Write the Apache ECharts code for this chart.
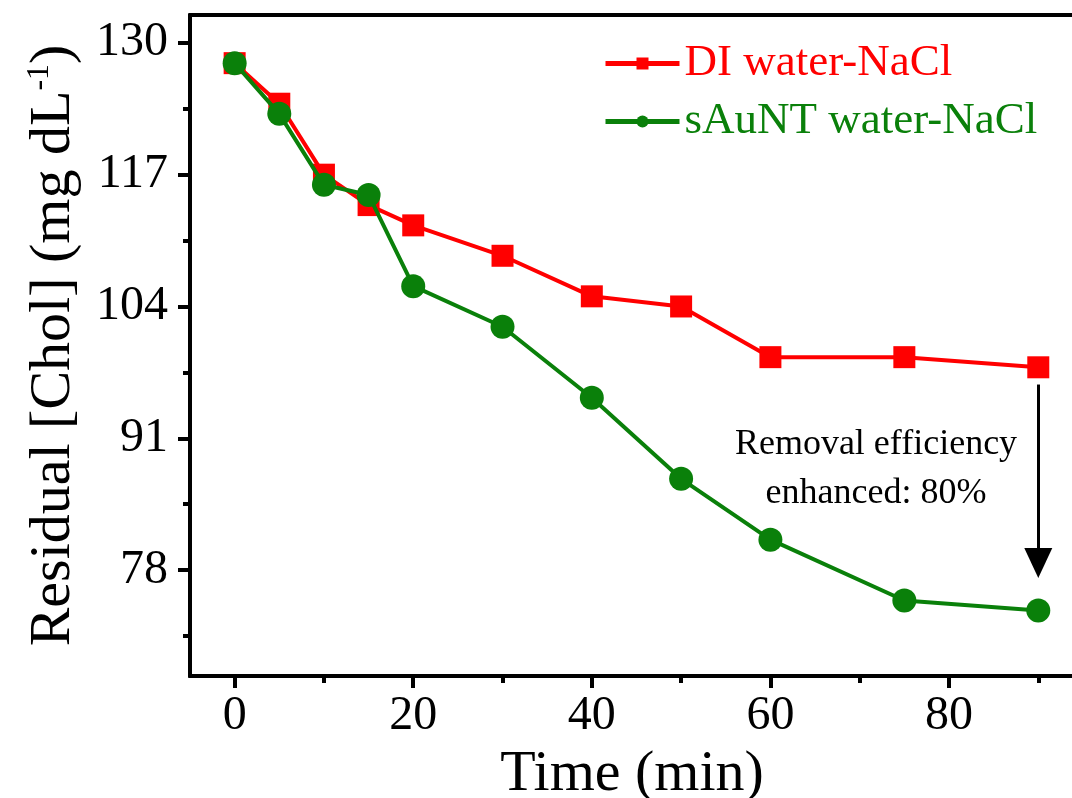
<!DOCTYPE html>
<html>
<head>
<meta charset="utf-8">
<script src="https://cdn.jsdelivr.net/npm/echarts@6/dist/echarts.min.js"></script>
<style>
  html, body { margin: 0; padding: 0; background: #fff; }
  #main { width: 1072px; height: 798px; }
</style>
</head>
<body>
<div id="main"></div>
<script>
// data
var times = [0, 5, 10, 15, 20, 30, 40, 50, 60, 75, 90];
var diWater = [128, 124, 117, 114, 112, 109, 105, 104, 99, 99, 98];
var sAuNT = [128, 123, 116, 115, 106, 102, 95, 87, 81, 75, 74];
var xMajor = [0, 20, 40, 60, 80];
var xMinor = [10, 30, 50, 70, 90];
var yMajor = [78, 91, 104, 117, 130];
var yMinor = [71.5, 84.5, 97.5, 110.5, 123.5];
var arrowFrom = [90, 96.3];
var arrowTo = [90, 78.7];

var FONT = "'Liberation Serif', 'Times New Roman', serif";

function pairs(xs, ys) {
    return xs.map(function (x, i) { return [x, ys[i]]; });
}

function xAxisBase(pos, ticks, len, labels) {
    return {
        type: 'value', position: pos, min: -5, max: 94,
        axisLine: { show: true, onZero: false, lineStyle: { color: '#000', width: 4 } },
        axisTick: { show: ticks.length > 0, inside: false, length: len, customValues: ticks,
            lineStyle: { color: '#000', width: 4 } },
        axisLabel: labels ? { show: true, customValues: labels, color: '#000', fontFamily: FONT,
            fontSize: 48, margin: 16 } : { show: false },
        splitLine: { show: false }
    };
}

function yAxisBase(ticks, len, labels) {
    return {
        type: 'value', position: 'left', min: 67.55, max: 132.75,
        axisLine: { show: true, onZero: false, lineStyle: { color: '#000', width: 4 } },
        axisTick: { show: true, inside: false, length: len, customValues: ticks,
            lineStyle: { color: '#000', width: 4 } },
        axisLabel: labels ? { show: true, customValues: labels, color: '#000', fontFamily: FONT,
            fontSize: 48, margin: 22 } : { show: false },
        splitLine: { show: false }
    };
}

var chart = echarts.init(document.getElementById('main'));

var xMain = xAxisBase('bottom', xMajor, 12, xMajor);
xMain.name = 'Time (min)';
xMain.nameLocation = 'middle';
xMain.nameGap = 70;
xMain.nameTextStyle = { color: '#000', fontFamily: FONT, fontSize: 58 };

var yMain = yAxisBase(yMajor, 12, yMajor);
yMain.name = '{t|Residual [Chol] (mg dL}{s|-1}{t|)}';
yMain.nameLocation = 'middle';
yMain.nameGap = 106;
yMain.nameRotate = 90;
yMain.nameTextStyle = {
    rich: {
        t: { color: '#000', fontFamily: FONT, fontSize: 58 },
        s: { color: '#000', fontFamily: FONT, fontSize: 32, verticalAlign: 'top', padding: [0, 0, 28, 0] }
    }
};

var option = {
    backgroundColor: '#fff',
    animation: false,
    grid: { left: 190, top: 15, width: 884, height: 661, outerBoundsMode: 'none', containLabel: false },
    legend: {
        left: 598, top: 36, orient: 'vertical', itemGap: 13,
        itemWidth: 74, itemHeight: 15,
        lineStyle: { width: 5 },
        textStyle: { fontFamily: FONT, fontSize: 45 },
        data: [
            { name: 'DI water-NaCl', textStyle: { color: '#ff0000' } },
            { name: 'sAuNT water-NaCl', textStyle: { color: '#0a800a' } }
        ]
    },
    xAxis: [
        xMain,
        xAxisBase('bottom', xMinor, 7, null),
        xAxisBase('top', [], 0, null)
    ],
    yAxis: [
        yMain,
        yAxisBase(yMinor, 7, null)
    ],
    graphic: [{
        type: 'text', x: 876, y: 420,
        style: {
            text: 'Removal efficiency\nenhanced: 80%',
            fontFamily: FONT, fontSize: 36, fill: '#000',
            align: 'center', verticalAlign: 'top', lineHeight: 49
        }
    }],
    series: [
        {
            name: 'DI water-NaCl', type: 'line', data: pairs(times, diWater),
            symbol: 'rect', symbolSize: 22,
            lineStyle: { color: '#ff0000', width: 4 },
            itemStyle: { color: '#ff0000' },
            markLine: {
                silent: true, symbol: ['none', 'triangle'], symbolSize: [28, 30],
                label: { show: false },
                lineStyle: { color: '#000', width: 3, type: 'solid' },
                data: [[{ coord: arrowFrom }, { coord: arrowTo }]]
            },
            z: 2
        },
        {
            name: 'sAuNT water-NaCl', type: 'line', data: pairs(times, sAuNT),
            symbol: 'circle', symbolSize: 24,
            lineStyle: { color: '#0a800a', width: 4 },
            itemStyle: { color: '#0a800a' },
            z: 3
        }
    ]
};
chart.setOption(option);
</script>
</body>
</html>
